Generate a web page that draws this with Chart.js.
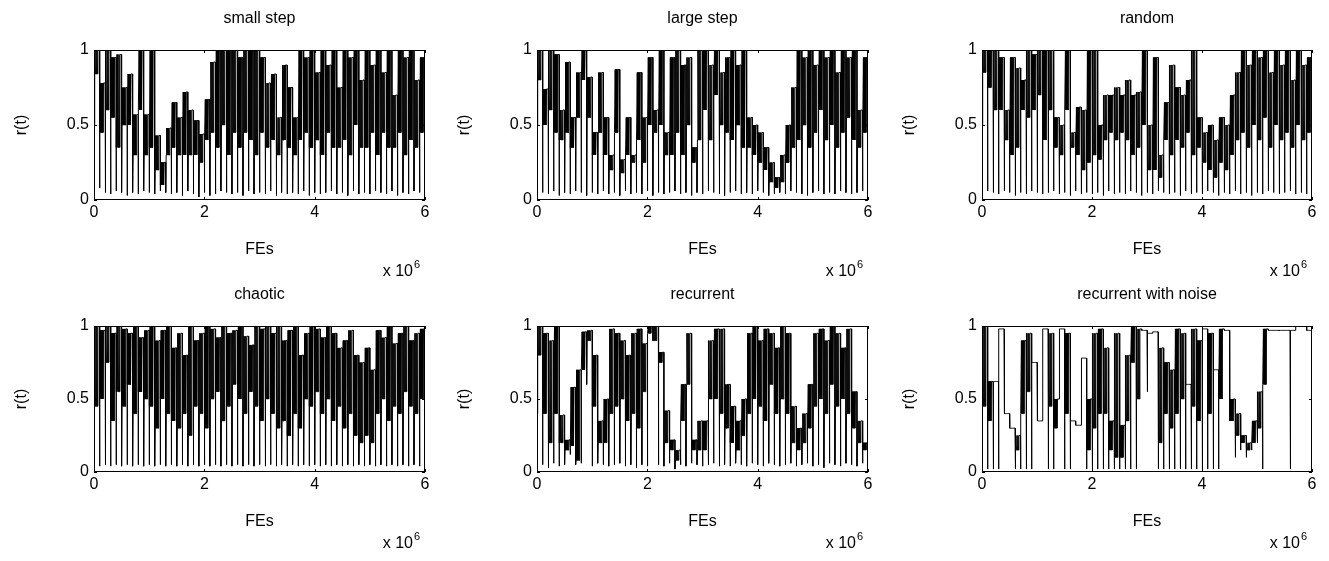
<!DOCTYPE html>
<html lang="en">
<head>
  <meta charset="UTF-8" />
  <title>r(t) for six change types</title>
  <script src="https://cdn.jsdelivr.net/npm/chart.js"></script>
  <style>
    html, body { margin: 0; padding: 0; background: #fff; }
    body { width: 1329px; height: 561px; position: relative; overflow: hidden; }
    canvas { position: absolute; }
  </style>
</head>
<body>
  <canvas id="p1"></canvas>
  <canvas id="p2"></canvas>
  <canvas id="p3"></canvas>
  <canvas id="p4"></canvas>
  <canvas id="p5"></canvas>
  <canvas id="p6"></canvas>
  <script>
    // one entry per environment change (60 changes over 6e6 FEs)
    // hi = best r(t) reached, mid = floor of the wobble, lo = value right after the change
    const totalFEs = 6e6;
    const xTickLabels = ['0', '2', '4', '6'];
    const yTickLabels = ['0', '0.5', '1'];

    // small step
    const smallStepHi = [1, 0.78, 1, 0.95, 0.97, 0.75, 0.84, 0.57, 1, 0.57, 1, 0.43, 0.25, 0.48, 0.65, 0.55, 0.72, 0.6, 0.53, 0.44,
      0.67, 0.92, 1, 1, 1, 1, 0.95, 1, 1, 1, 0.95, 0.78, 0.84, 0.55, 0.9, 0.75, 0.55, 1, 0.95, 1,
      0.85, 1, 0.9, 1, 0.75, 1, 0.95, 1, 0.8, 1, 0.9, 1, 0.85, 1, 0.7, 1, 0.95, 1, 0.8, 0.95];
    const smallStepMid = [0.84, 0.45, 0.6, 0.55, 0.35, 0.5, 0.5, 0.3, 0.6, 0.3, 0.35, 0.2, 0.1, 0.3, 0.35, 0.3, 0.3, 0.3, 0.3, 0.25,
      0.4, 0.45, 0.35, 0.5, 0.3, 0.45, 0.35, 0.45, 0.4, 0.3, 0.45, 0.35, 0.4, 0.3, 0.4, 0.35, 0.3, 0.4, 0.45, 0.35,
      0.4, 0.3, 0.45, 0.35, 0.35, 0.4, 0.3, 0.5, 0.35, 0.35, 0.45, 0.3, 0.45, 0.35, 0.35, 0.45, 0.3, 0.4, 0.35, 0.45];
    const smallStepLo = [0.5, 0.08, 0.05, 0.04, 0.06, 0.05, 0.03, 0.05, 0.04, 0.06, 0.05, 0.04, 0.06, 0.05, 0.04, 0.05, 0.03, 0.06, 0.04, 0.02,
      0.05, 0.03, 0.04, 0.06, 0.05, 0.04, 0.05, 0.03, 0.06, 0.04, 0.05, 0.04, 0.06, 0.03, 0.05, 0.04, 0.05, 0.04, 0.06, 0.03,
      0.05, 0.04, 0.05, 0.06, 0.04, 0.05, 0.03, 0.06, 0.04, 0.05, 0.04, 0.06, 0.05, 0.04, 0.06, 0.03, 0.05, 0.04, 0.06, 0.05];

    // large step
    const largeStepHi = [1, 0.74, 1, 0.97, 0.6, 0.92, 0.55, 0.85, 1, 0.82, 0.45, 0.85, 0.55, 0.3, 0.87, 0.27, 0.55, 0.3, 0.85, 0.55,
      0.95, 0.6, 1, 0.45, 0.95, 1, 0.9, 0.95, 0.35, 1, 1, 0.9, 1, 0.85, 0.95, 1, 0.9, 1, 0.55, 0.5,
      0.45, 0.35, 0.25, 0.15, 0.3, 0.5, 0.75, 1, 0.95, 1, 0.9, 1, 0.95, 1, 0.85, 1, 0.95, 1, 0.6, 0.95];
    const largeStepMid = [0.8, 0.5, 0.6, 0.45, 0.4, 0.45, 0.35, 0.55, 0.8, 0.55, 0.3, 0.45, 0.3, 0.2, 0.45, 0.18, 0.3, 0.25, 0.4, 0.25,
      0.5, 0.45, 0.5, 0.3, 0.3, 0.45, 0.3, 0.5, 0.25, 0.4, 0.6, 0.4, 0.7, 0.5, 0.45, 0.4, 0.5, 0.35, 0.35, 0.3,
      0.25, 0.2, 0.12, 0.08, 0.12, 0.25, 0.35, 0.4, 0.5, 0.35, 0.45, 0.6, 0.4, 0.5, 0.35, 0.45, 0.55, 0.4, 0.35, 0.45];
    const largeStepLo = [0.5, 0.05, 0.04, 0.06, 0.03, 0.05, 0.04, 0.06, 0.05, 0.03, 0.05, 0.04, 0.06, 0.04, 0.05, 0.03, 0.06, 0.04, 0.05, 0.04,
      0.06, 0.03, 0.05, 0.04, 0.05, 0.06, 0.04, 0.05, 0.03, 0.05, 0.04, 0.06, 0.05, 0.04, 0.03, 0.05, 0.06, 0.04, 0.05, 0.04,
      0.06, 0.05, 0.03, 0.04, 0.05, 0.04, 0.06, 0.05, 0.04, 0.03, 0.05, 0.06, 0.04, 0.05, 0.04, 0.06, 0.05, 0.04, 0.05, 0.06];

    // random
    const randomHi = [1, 1, 1, 0.95, 0.6, 0.95, 0.88, 0.8, 1, 0.97, 1, 1, 1, 0.55, 0.5, 1, 0.45, 0.62, 0.6, 1,
      1, 0.5, 0.7, 0.7, 0.75, 0.7, 0.8, 0.7, 0.72, 1, 0.5, 0.95, 0.3, 0.65, 0.9, 0.75, 0.7, 0.8, 1, 0.55,
      0.45, 0.5, 0.4, 0.55, 0.5, 0.7, 0.85, 1, 0.9, 1, 0.95, 1, 0.85, 1, 0.9, 1, 0.8, 1, 0.9, 0.95];
    const randomMid = [0.85, 0.75, 0.6, 0.6, 0.4, 0.3, 0.35, 0.6, 0.55, 0.6, 0.7, 0.4, 0.6, 0.35, 0.3, 0.6, 0.35, 0.3, 0.2, 0.25,
      0.3, 0.27, 0.4, 0.45, 0.4, 0.45, 0.4, 0.3, 0.35, 0.5, 0.2, 0.2, 0.15, 0.4, 0.3, 0.4, 0.35, 0.45, 0.3, 0.35,
      0.25, 0.2, 0.15, 0.25, 0.2, 0.3, 0.4, 0.45, 0.35, 0.5, 0.4, 0.55, 0.35, 0.5, 0.4, 0.45, 0.35, 0.5, 0.4, 0.45];
    const randomLo = [0.5, 0.06, 0.05, 0.04, 0.06, 0.05, 0.03, 0.05, 0.04, 0.06, 0.05, 0.04, 0.05, 0.06, 0.04, 0.05, 0.03, 0.06, 0.04, 0.05,
      0.04, 0.05, 0.03, 0.06, 0.04, 0.05, 0.04, 0.06, 0.05, 0.03, 0.05, 0.04, 0.06, 0.05, 0.04, 0.05, 0.03, 0.06, 0.04, 0.05,
      0.04, 0.06, 0.05, 0.03, 0.05, 0.04, 0.06, 0.04, 0.05, 0.03, 0.05, 0.04, 0.06, 0.05, 0.04, 0.05, 0.06, 0.04, 0.05, 0.04];

    // chaotic
    const chaoticHi = [1, 0.97, 1, 0.95, 1, 0.98, 0.95, 1, 0.92, 0.97, 1, 0.9, 0.97, 1, 0.85, 0.95, 0.8, 1, 0.9, 0.95,
      1, 0.98, 0.92, 1, 0.95, 0.97, 1, 0.93, 0.87, 1, 0.98, 1, 0.95, 1, 0.9, 0.97, 1, 0.8, 0.95, 1,
      0.98, 0.92, 1, 0.95, 0.85, 0.9, 0.97, 0.8, 0.75, 0.85, 0.7, 0.97, 0.92, 1, 0.88, 0.95, 1, 0.9, 0.95, 0.98];
    const chaoticMid = [0.45, 0.5, 0.75, 0.35, 0.55, 0.45, 0.6, 0.4, 0.55, 0.5, 0.45, 0.3, 0.5, 0.4, 0.35, 0.3, 0.4, 0.25, 0.45, 0.4,
      0.3, 0.5, 0.55, 0.35, 0.45, 0.6, 0.5, 0.4, 0.55, 0.45, 0.35, 0.5, 0.4, 0.3, 0.35, 0.25, 0.4, 0.3, 0.5, 0.45,
      0.55, 0.4, 0.5, 0.35, 0.45, 0.3, 0.4, 0.25, 0.2, 0.25, 0.2, 0.4, 0.5, 0.35, 0.45, 0.4, 0.55, 0.45, 0.4, 0.5];
    const chaoticLo = [0.95, 0.04, 0.05, 0.04, 0.05, 0.04, 0.05, 0.04, 0.05, 0.04, 0.05, 0.04, 0.05, 0.04, 0.05, 0.04, 0.05, 0.04, 0.05, 0.04,
      0.05, 0.04, 0.05, 0.04, 0.05, 0.04, 0.05, 0.04, 0.05, 0.04, 0.05, 0.04, 0.05, 0.04, 0.05, 0.04, 0.05, 0.04, 0.05, 0.04,
      0.05, 0.04, 0.05, 0.04, 0.05, 0.04, 0.05, 0.04, 0.05, 0.04, 0.05, 0.04, 0.05, 0.04, 0.05, 0.04, 0.05, 0.04, 0.05, 0.04];

    // recurrent
    const recurrentHi = [1, 0.95, 0.9, 1, 0.39, 0.22, 0.58, 0.7, 0.96, 0.97, 0.8, 0.35, 0.5, 0.98, 0.95, 0.9, 0.8, 0.95, 0.98, 0.88,
      1, 1, 0.82, 0.42, 0.22, 0.15, 0.6, 0.95, 0.22, 0.35, 0.35, 0.9, 0.98, 0.98, 0.6, 0.45, 0.35, 0.5, 0.95, 1,
      0.9, 0.98, 0.95, 0.85, 1, 0.95, 0.45, 0.3, 0.4, 0.6, 0.95, 0.98, 0.9, 1, 0.95, 0.85, 0.98, 0.55, 0.35, 0.2];
    const recurrentMid = [0.8, 0.4, 0.2, 0.4, 0.2, 0.15, 0.18, 0.08, 0.7, 0.9, 0.45, 0.2, 0.2, 0.4, 0.45, 0.5, 0.35, 0.4, 0.3, 0.55,
      0.95, 0.9, 0.75, 0.2, 0.15, 0.08, 0.35, 0.6, 0.15, 0.15, 0.15, 0.5, 0.5, 0.4, 0.3, 0.2, 0.15, 0.25, 0.4, 0.5,
      0.45, 0.35, 0.6, 0.4, 0.5, 0.4, 0.2, 0.15, 0.2, 0.3, 0.45, 0.5, 0.4, 0.6, 0.45, 0.5, 0.4, 0.3, 0.2, 0.15];
    const recurrentLo = [0.4, 0.05, 0.03, 0.06, 0.04, 0.05, 0.12, 0.05, 0.06, 0.6, 0.04, 0.06, 0.05, 0.04, 0.05, 0.06, 0.04, 0.05, 0.03, 0.05,
      0.04, 0.9, 0.05, 0.04, 0.06, 0.02, 0.05, 0.04, 0.06, 0.05, 0.04, 0.05, 0.06, 0.04, 0.05, 0.04, 0.06, 0.05, 0.04, 0.06,
      0.05, 0.04, 0.06, 0.05, 0.04, 0.05, 0.06, 0.04, 0.05, 0.06, 0.04, 0.05, 0.03, 0.06, 0.05, 0.04, 0.06, 0.05, 0.04, 0.06];

    // recurrent with noise
    const noisyHi = [1, 0.62, 0.62, 0.98, 0.4, 0.3, 0.25, 0.9, 0.95, 0.75, 0.35, 0.98, 0.95, 0.5, 0.98, 0.95, 0.35, 0.32, 0.78, 0.5,
      0.95, 0.98, 0.85, 0.35, 0.95, 0.32, 0.8, 1, 0.98, 0.97, 0.95, 0.96, 0.85, 0.75, 0.7, 0.98, 0.95, 0.6, 0.98, 0.9,
      0.98, 0.95, 0.7, 0.98, 0.97, 0.5, 0.4, 0.25, 0.2, 0.35, 0.55, 0.98, 0.97, 0.97, 0.97, 0.97, 0.97, 1, 1, 0.97];
    const noisyMid = [0.45, 0.35, 0.62, 0.98, 0.4, 0.3, 0.15, 0.4, 0.55, 0.75, 0.35, 0.98, 0.45, 0.3, 0.98, 0.4, 0.35, 0.32, 0.78, 0.15,
      0.3, 0.4, 0.4, 0.15, 0.1, 0.1, 0.35, 0.75, 0.5, 0.97, 0.95, 0.96, 0.2, 0.4, 0.3, 0.4, 0.5, 0.6, 0.45, 0.35,
      0.98, 0.4, 0.7, 0.5, 0.97, 0.35, 0.25, 0.2, 0.15, 0.2, 0.3, 0.6, 0.97, 0.97, 0.97, 0.97, 0.97, 1, 1, 0.97];
    const noisyLo = [0.95, 0.02, 0.02, 0.02, 0.4, 0.3, 0.02, 0.02, 0.02, 0.02, 0.35, 0.98, 0.02, 0.02, 0.98, 0.02, 0.02, 0.32, 0.78, 0.02,
      0.02, 0.02, 0.02, 0.02, 0.02, 0.02, 0.02, 0.02, 0.02, 0.97, 0.55, 0.96, 0.02, 0.02, 0.02, 0.02, 0.02, 0.02, 0.02, 0.02,
      0.02, 0.02, 0.02, 0.02, 0.97, 0.35, 0.1, 0.15, 0.1, 0.15, 0.2, 0.02, 0.97, 0.97, 0.97, 0.97, 0.02, 1, 1, 0.97];

    const FONT = '"Liberation Sans", Arial, sans-serif';
    const PAD_L = 90, PAD_T = 45, PAD_R = 15, PAD_B = 85;

    // inside one change period: drop to lo, climb to mid, wobble between mid and hi, then hold hi
    function buildSeries(hi, mid, lo) {
      const period = totalFEs / hi.length;
      const pts = [];
      hi.forEach((h, i) => {
        const t = i * period;
        const m = mid[i];
        pts.push({ x: t, y: lo[i] });
        pts.push({ x: t + 0.08 * period, y: m });
        [0.17, 0.26, 0.35, 0.44, 0.53, 0.62, 0.71].forEach((f, k) => {
          pts.push({ x: t + f * period, y: k % 2 === 0 ? h : m });
        });
        pts.push({ x: t + 0.76 * period, y: h });
        pts.push({ x: t + period, y: h });
      });
      return pts;
    }

    const frame = {
      id: 'frame',
      afterDraw(chart, args, opts) {
        const { ctx, chartArea: a, scales } = chart;
        ctx.save();
        ctx.strokeStyle = '#000';
        ctx.lineWidth = 1;
        ctx.strokeRect(a.left + 0.5, a.top + 0.5, a.right - a.left - 1, a.bottom - a.top - 1);
        // matlab style ticks pointing inward
        ctx.beginPath();
        scales.x.ticks.forEach(tk => {
          const x = Math.round(scales.x.getPixelForValue(tk.value)) + 0.5;
          ctx.moveTo(x, a.bottom); ctx.lineTo(x, a.bottom - 3);
          ctx.moveTo(x, a.top); ctx.lineTo(x, a.top + 3);
        });
        scales.y.ticks.forEach(tk => {
          const y = Math.round(scales.y.getPixelForValue(tk.value)) + 0.5;
          ctx.moveTo(a.left, y); ctx.lineTo(a.left + 3, y);
          ctx.moveTo(a.right, y); ctx.lineTo(a.right - 3, y);
        });
        ctx.stroke();

        ctx.fillStyle = '#000';
        ctx.font = '16px ' + FONT;
        ctx.textAlign = 'center';
        ctx.textBaseline = 'middle';
        const cx = (a.left + a.right) / 2;
        ctx.fillText(opts.title, cx, a.top - 31);
        ctx.fillText('FEs', cx, a.bottom + 50);
        ctx.textAlign = 'right';
        ctx.fillText('x 10', a.right - 12, a.bottom + 72);
        ctx.font = '11px ' + FONT;
        ctx.textAlign = 'left';
        ctx.fillText('6', a.right - 11, a.bottom + 65);
        ctx.font = '16px ' + FONT;
        ctx.textAlign = 'center';
        ctx.translate(a.left - 72, (a.top + a.bottom) / 2);
        ctx.rotate(-Math.PI / 2);
        ctx.fillText('r(t)', 0, 0);
        ctx.restore();
      }
    };

    function makePanel(id, title, hi, mid, lo, box) {
      const canvas = document.getElementById(id);
      canvas.width = box.width + PAD_L + PAD_R;
      canvas.height = box.height + PAD_T + PAD_B;
      canvas.style.left = (box.left - PAD_L) + 'px';
      canvas.style.top = (box.top - PAD_T) + 'px';

      new Chart(canvas.getContext('2d'), {
        type: 'line',
        data: {
          datasets: [{
            data: buildSeries(hi, mid, lo),
            borderColor: '#000',
            borderWidth: 1,
            pointRadius: 0,
            tension: 0,
            fill: false
          }]
        },
        options: {
          responsive: false,
          animation: false,
          events: [],
          layout: { padding: { left: 0, top: PAD_T, right: PAD_R, bottom: 0 } },
          plugins: {
            legend: { display: false },
            tooltip: { enabled: false },
            frame: { title }
          },
          scales: {
            x: {
              type: 'linear',
              min: 0,
              max: totalFEs,
              afterFit: s => { s.height = PAD_B; },
              grid: { display: false, drawTicks: false },
              border: { display: false },
              ticks: {
                stepSize: totalFEs / (xTickLabels.length - 1),
                maxRotation: 0,
                padding: 3,
                color: '#000',
                font: { family: FONT, size: 16 },
                callback: (v, i) => xTickLabels[i]
              }
            },
            y: {
              min: 0,
              max: 1,
              afterFit: s => { s.width = PAD_L; },
              grid: { display: false, drawTicks: false },
              border: { display: false },
              ticks: {
                stepSize: 1 / (yTickLabels.length - 1),
                padding: 5,
                color: '#000',
                font: { family: FONT, size: 16 },
                callback: (v, i) => yTickLabels[i]
              }
            }
          }
        },
        plugins: [frame]
      });
    }

    makePanel('p1', 'small step', smallStepHi, smallStepMid, smallStepLo, { left: 94, top: 50, width: 331, height: 150 });
    makePanel('p2', 'large step', largeStepHi, largeStepMid, largeStepLo, { left: 537, top: 50, width: 331, height: 150 });
    makePanel('p3', 'random', randomHi, randomMid, randomLo, { left: 982, top: 50, width: 330, height: 150 });
    makePanel('p4', 'chaotic', chaoticHi, chaoticMid, chaoticLo, { left: 94, top: 326, width: 331, height: 146 });
    makePanel('p5', 'recurrent', recurrentHi, recurrentMid, recurrentLo, { left: 537, top: 326, width: 331, height: 146 });
    makePanel('p6', 'recurrent with noise', noisyHi, noisyMid, noisyLo, { left: 982, top: 326, width: 330, height: 146 });
  </script>
</body>
</html>
